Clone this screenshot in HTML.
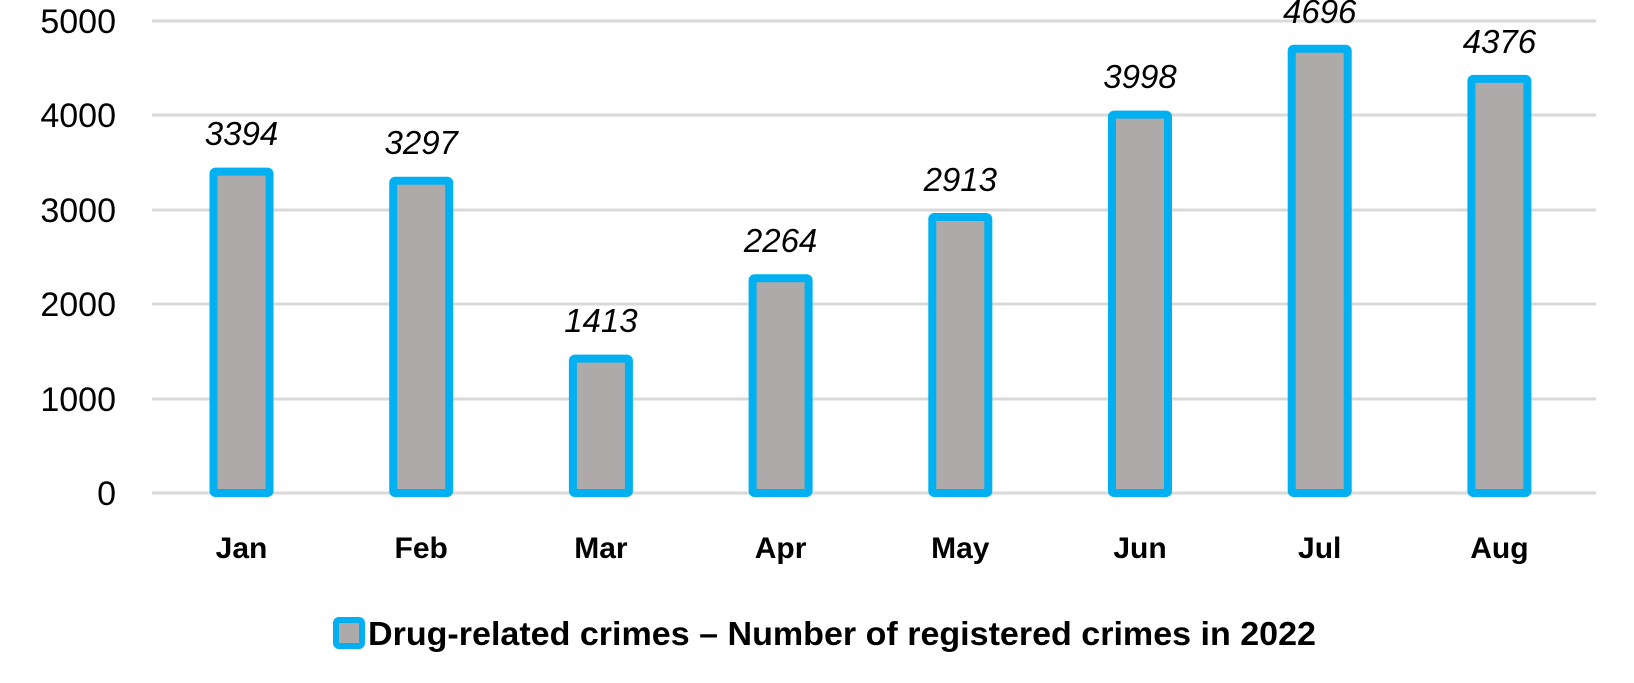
<!DOCTYPE html>
<html><head><style>
body{margin:0;background:#fff;}
svg text{font-family:"Liberation Sans",sans-serif;}
</style></head><body>
<svg width="1634" height="678" xmlns="http://www.w3.org/2000/svg">
<g stroke="#d9d9d9" stroke-width="3">
<line x1="152" x2="1596" y1="21" y2="21"/>
<line x1="152" x2="1596" y1="115" y2="115"/>
<line x1="152" x2="1596" y1="210" y2="210"/>
<line x1="152" x2="1596" y1="304" y2="304"/>
<line x1="152" x2="1596" y1="399" y2="399"/>
<line x1="152" x2="1596" y1="493" y2="493"/>
</g>
<g font-size="34" text-anchor="end" fill="#000">
<text x="116" y="33">5000</text>
<text x="116" y="127">4000</text>
<text x="116" y="222">3000</text>
<text x="116" y="316">2000</text>
<text x="116" y="411">1000</text>
<text x="116" y="505">0</text>
</g>
<g fill="#aeaaaa" stroke="#00b0f0" stroke-width="8" stroke-linejoin="round">
<rect x="213.5" y="171.6" width="56" height="321.4" rx="2"/>
<rect x="393.2" y="180.8" width="56" height="312.2" rx="2"/>
<rect x="572.9" y="358.6" width="56" height="134.4" rx="2"/>
<rect x="752.6" y="278.3" width="56" height="214.7" rx="2"/>
<rect x="932.3" y="217" width="56" height="276" rx="2"/>
<rect x="1112" y="114.6" width="56" height="378.4" rx="2"/>
<rect x="1291.7" y="48.7" width="56" height="444.3" rx="2"/>
<rect x="1471.4" y="78.9" width="56" height="414.1" rx="2"/>
</g>
<g font-size="33" font-style="italic" text-anchor="middle">
<text x="241.5" y="145">3394</text>
<text x="421.2" y="154">3297</text>
<text x="600.9" y="332">1413</text>
<text x="780.6" y="252">2264</text>
<text x="960.3" y="191">2913</text>
<text x="1140" y="88">3998</text>
<text x="1319.7" y="23">4696</text>
<text x="1499.4" y="53">4376</text>
</g>
<g font-size="30" font-weight="bold" text-anchor="middle">
<text x="241.5" y="558">Jan</text>
<text x="421.2" y="558">Feb</text>
<text x="600.9" y="558">Mar</text>
<text x="780.6" y="558">Apr</text>
<text x="960.3" y="558">May</text>
<text x="1140" y="558">Jun</text>
<text x="1319.7" y="558">Jul</text>
<text x="1499.4" y="558">Aug</text>
</g>
<rect x="336" y="620" width="26" height="26" rx="3" fill="#aeaaaa" stroke="#00b0f0" stroke-width="6"/>
<text x="368" y="645" font-size="33" font-weight="bold" textLength="948" lengthAdjust="spacingAndGlyphs">Drug-related crimes – Number of registered crimes in 2022</text>
</svg>
</body></html>
